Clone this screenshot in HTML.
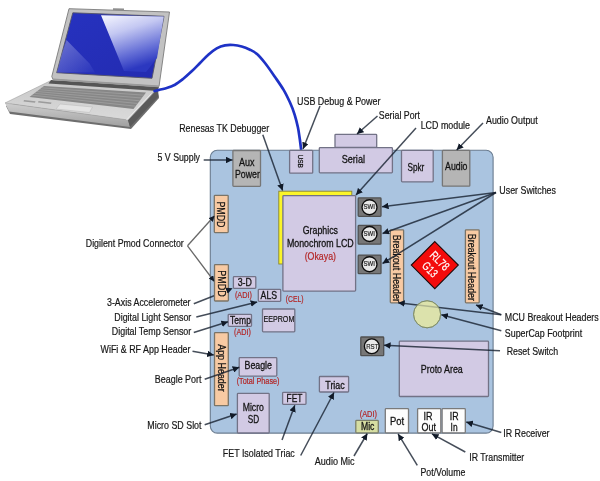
<!DOCTYPE html><html><head><meta charset="utf-8"><style>html,body{margin:0;padding:0;background:#fff;width:600px;height:481px;overflow:hidden}svg{display:block;filter:blur(0.35px)}text{font-family:"Liberation Sans",sans-serif}</style></head><body>
<svg width="600" height="481" viewBox="0 0 600 481">
<defs>
<marker id="ah" viewBox="0 0 10 10" refX="10" refY="5" markerWidth="4.4" markerHeight="4.4" orient="auto" markerUnits="strokeWidth"><path d="M0,0 L10,5 L0,10 z" fill="#111a28"/></marker>
<linearGradient id="scr" x1="0" y1="0" x2="1" y2="1"><stop offset="0" stop-color="#2632c0"/><stop offset="1" stop-color="#232bb0"/></linearGradient>
<linearGradient id="hl" x1="0" y1="0" x2="0.35" y2="1"><stop offset="0" stop-color="#f6f7ff"/><stop offset="0.35" stop-color="#c4c8f2"/><stop offset="0.75" stop-color="#646ed6"/><stop offset="1" stop-color="#2c38c0"/></linearGradient>
<linearGradient id="hl2" x1="0" y1="0" x2="1" y2="1"><stop offset="0" stop-color="#a8ace4"/><stop offset="1" stop-color="#2c38c0"/></linearGradient>
<linearGradient id="front" x1="0" y1="0" x2="0" y2="1"><stop offset="0" stop-color="#cfcfcf"/><stop offset="1" stop-color="#a0a0a0"/></linearGradient>
<linearGradient id="lid" x1="0" y1="0" x2="0" y2="1"><stop offset="0" stop-color="#b8b8b8"/><stop offset="1" stop-color="#9c9c9c"/></linearGradient>
<linearGradient id="base" x1="0" y1="0" x2="0" y2="1"><stop offset="0" stop-color="#c8c8c8"/><stop offset="1" stop-color="#dadada"/></linearGradient>
</defs>
<polygon points="6,106 50,82 158,90 159,98 131,129 10,114" fill="#6e6e6e"/>
<polygon points="5,103 128,120 130,127 9,111.5" fill="url(#front)"/>
<polygon points="128,120 157,89 158.5,96.5 130,127" fill="#5a5a5a"/>
<polygon points="5,103 50,81 157,89 128,120" fill="url(#base)" stroke="#a0a0a0" stroke-width="0.6"/>
<polygon points="44,86 146,92.5 133.5,109 29.5,97" fill="#878787"/>
<line x1="41.6" y1="87.8" x2="143.9" y2="95.2" stroke="#a4a4a4" stroke-width="0.7"/>
<line x1="39.2" y1="89.7" x2="141.8" y2="98.0" stroke="#a4a4a4" stroke-width="0.7"/>
<line x1="36.8" y1="91.5" x2="139.8" y2="100.8" stroke="#a4a4a4" stroke-width="0.7"/>
<line x1="34.3" y1="93.3" x2="137.7" y2="103.5" stroke="#a4a4a4" stroke-width="0.7"/>
<line x1="31.9" y1="95.2" x2="135.6" y2="106.2" stroke="#a4a4a4" stroke-width="0.7"/>
<polygon points="51,80 159,87 157.5,91 48.5,83.5" fill="#555555"/>
<line x1="151.5" y1="93.5" x2="126.5" y2="120" stroke="#ececec" stroke-width="1"/>
<polygon points="60,104 92.5,107 89.5,112.5 56,109" fill="#e4e4e4" stroke="#b8b8b8" stroke-width="0.5"/>
<polygon points="24,100 35.5,101.3 35,102.8 23.5,101.5" fill="#9c9c9c"/>
<polygon points="38.5,101 51.5,102.5 51,104 38,102.6" fill="#9c9c9c"/>
<polygon points="69,8.7 169.5,12 159,86.5 53,79.5 51.8,76.5" fill="#c2c2c2" stroke="#7a7a7a" stroke-width="0.9" stroke-linejoin="round"/>
<polygon points="53,78.6 159,85.6 158.6,87.2 52.6,80.2" fill="#9a9a9a"/>
<polygon points="113,8.2 124,8.6 124,10.6 113,10.2" fill="#8e8e8e"/>
<polygon points="72.8,12.8 164,16.3 152,78.3 56.7,72.7" fill="url(#scr)" stroke="#555566" stroke-width="0.9"/>
<polygon points="101,15.3 163.8,16.6 157,58 146,72 124,71" fill="url(#hl)"/>
<polygon points="66.5,40 89.5,63.5 95,72.5 57,72.5 61.5,55" fill="url(#hl2)" opacity="0.55"/>
<path d="M154.5,91 C156.5,90.5 163.3,89.0 166.7,88 C170.1,87.0 172.2,86.2 175,84.7 C177.8,83.2 180.5,81.0 183.3,78.8 C186.1,76.6 188.9,73.9 191.7,71.3 C194.5,68.7 197.2,65.8 200,63 C202.8,60.2 205.5,57.2 208.3,54.7 C211.1,52.2 213.9,49.9 216.7,48.3 C219.5,46.7 222.2,45.8 225,45.3 C227.8,44.8 230.5,44.8 233.3,45 C236.1,45.2 238.9,45.7 241.7,46.5 C244.5,47.3 247.4,48.5 250,49.7 C252.6,51.0 254.5,51.8 257,54 C259.5,56.2 262.0,59.2 265,63 C268.0,66.8 271.9,72.5 275,77 C278.1,81.5 281.1,85.7 283.6,89.9 C286.1,94.1 288.0,98.2 289.9,102.3 C291.8,106.4 293.4,110.6 294.7,114.8 C296.0,119.0 297.0,123.1 297.9,127.3 C298.8,131.5 299.3,136.0 299.9,139.8 C300.4,143.6 301.0,148.6 301.2,150.3" fill="none" stroke="#1e32c6" stroke-width="2.7" stroke-linecap="round"/>
<rect x="210.3" y="150.3" width="282.8" height="282.8" rx="7" fill="#aac4e0" stroke="#6a7c90" stroke-width="1.1"/>
<path d="M193.8,303.8 L228.0,290.2" fill="none" stroke="rgba(22,32,48,0.8)" stroke-width="1.5"/>
<rect x="289.6" y="150.3" width="23.1" height="22.9" rx="0.8" fill="#d2cae4" stroke="#727286" stroke-width="1.3"/>
<text transform="translate(300.7,154.5) rotate(90)" x="0" y="2.59" font-size="7.2" fill="#141414" stroke="#141414" stroke-width="0.25" textLength="13.5" lengthAdjust="spacingAndGlyphs">USB</text>
<rect x="335.0" y="134.3" width="41.7" height="13.2" rx="0.8" fill="#d2cae4" stroke="#727286" stroke-width="1.3"/>
<rect x="319.3" y="147.6" width="73.1" height="25.2" rx="0.8" fill="#d2cae4" stroke="#727286" stroke-width="1.3"/>
<text x="341.70" y="162.80" font-size="11" fill="#141414" stroke="#141414" stroke-width="0.3" textLength="23.30" lengthAdjust="spacingAndGlyphs">Serial</text>
<rect x="401.5" y="150.3" width="31.7" height="31.5" rx="0.8" fill="#d2cae4" stroke="#727286" stroke-width="1.3"/>
<text x="407.50" y="171.10" font-size="11" fill="#141414" stroke="#141414" stroke-width="0.3" textLength="16.80" lengthAdjust="spacingAndGlyphs">Spkr</text>
<rect x="442.4" y="150.3" width="27.4" height="35.9" rx="0.8" fill="#b5b5b5" stroke="#767676" stroke-width="1.3"/>
<text x="445.10" y="169.50" font-size="11" fill="#141414" stroke="#141414" stroke-width="0.3" textLength="22.40" lengthAdjust="spacingAndGlyphs">Audio</text>
<rect x="232.9" y="150.5" width="27.6" height="35.9" rx="0.8" fill="#b5b5b5" stroke="#767676" stroke-width="1.3"/>
<text x="239.00" y="165.50" font-size="11" fill="#141414" stroke="#141414" stroke-width="0.3" textLength="15.50" lengthAdjust="spacingAndGlyphs">Aux</text>
<text x="235.00" y="178.40" font-size="11" fill="#141414" stroke="#141414" stroke-width="0.3" textLength="24.80" lengthAdjust="spacingAndGlyphs">Power</text>
<rect x="214.3" y="195.3" width="13.9" height="37.3" rx="0.8" fill="#f8caa3" stroke="#7a7468" stroke-width="1.3"/>
<text transform="translate(221.3,201.4) rotate(90)" x="0" y="3.96" font-size="11" fill="#141414" stroke="#141414" stroke-width="0.25" textLength="26.0" lengthAdjust="spacingAndGlyphs">PMDD</text>
<rect x="214.5" y="264.6" width="13.9" height="36.4" rx="0.8" fill="#f8caa3" stroke="#7a7468" stroke-width="1.3"/>
<text transform="translate(221.5,270.3) rotate(90)" x="0" y="3.96" font-size="11" fill="#141414" stroke="#141414" stroke-width="0.25" textLength="26.3" lengthAdjust="spacingAndGlyphs">PMDD</text>
<rect x="214.5" y="332.6" width="13.8" height="73.1" rx="0.8" fill="#f8caa3" stroke="#7a7468" stroke-width="1.3"/>
<text transform="translate(222.2,344.2) rotate(90)" x="0" y="3.89" font-size="10.8" fill="#141414" stroke="#141414" stroke-width="0.25" textLength="47.5" lengthAdjust="spacingAndGlyphs">App Header</text>
<rect x="390.3" y="229.8" width="13.3" height="73.1" rx="0.8" fill="#f8caa3" stroke="#7a7468" stroke-width="1.3"/>
<text transform="translate(397.6,234.7) rotate(90)" x="0" y="4.14" font-size="11.5" fill="#141414" stroke="#141414" stroke-width="0.25" textLength="67.2" lengthAdjust="spacingAndGlyphs">Breakout Header</text>
<rect x="465.4" y="229.8" width="13.8" height="73.1" rx="0.8" fill="#f8caa3" stroke="#7a7468" stroke-width="1.3"/>
<text transform="translate(472.6,233.8) rotate(90)" x="0" y="4.14" font-size="11.5" fill="#141414" stroke="#141414" stroke-width="0.25" textLength="67.2" lengthAdjust="spacingAndGlyphs">Breakout Header</text>
<rect x="278.8" y="191.2" width="73" height="72.8" fill="#fbf52a" stroke="#8a8530" stroke-width="0.9"/>
<rect x="282.9" y="195.6" width="72.7" height="95.5" rx="0.8" fill="#d2cae4" stroke="#727286" stroke-width="1.3"/>
<text x="302.70" y="233.90" font-size="10.5" fill="#141414" stroke="#141414" stroke-width="0.3" textLength="35.30" lengthAdjust="spacingAndGlyphs">Graphics</text>
<text x="286.90" y="247.40" font-size="10.5" fill="#141414" stroke="#141414" stroke-width="0.3" textLength="66.80" lengthAdjust="spacingAndGlyphs">Monochrom LCD</text>
<text x="304.70" y="259.70" font-size="10.5" fill="#b42626" stroke="#b42626" stroke-width="0.2" textLength="31.30" lengthAdjust="spacingAndGlyphs">(Okaya)</text>
<rect x="358.2" y="197.9" width="22.8" height="18.4" rx="0.8" fill="#777777" stroke="#505050" stroke-width="1.3"/>
<circle cx="369.5" cy="207.2" r="7.5" fill="#e8e8e8" stroke="#0c0c0c" stroke-width="1.35"/>
<text x="363.60" y="209.30" font-size="6.9" fill="#222" stroke="#222" stroke-width="0.2" textLength="11.40" lengthAdjust="spacingAndGlyphs">SWI</text>
<rect x="358.2" y="225.4" width="22.8" height="18.8" rx="0.8" fill="#777777" stroke="#505050" stroke-width="1.3"/>
<circle cx="369.5" cy="234.0" r="7.5" fill="#e8e8e8" stroke="#0c0c0c" stroke-width="1.35"/>
<text x="363.60" y="236.10" font-size="6.9" fill="#222" stroke="#222" stroke-width="0.2" textLength="11.40" lengthAdjust="spacingAndGlyphs">SWI</text>
<rect x="358.2" y="255.1" width="22.8" height="18.6" rx="0.8" fill="#777777" stroke="#505050" stroke-width="1.3"/>
<circle cx="369.5" cy="264.2" r="7.5" fill="#e8e8e8" stroke="#0c0c0c" stroke-width="1.35"/>
<text x="363.60" y="266.30" font-size="6.9" fill="#222" stroke="#222" stroke-width="0.2" textLength="11.40" lengthAdjust="spacingAndGlyphs">SWI</text>
<polygon points="434.8,241.6 458.3,265.1 434.8,288.6 411.3,265.1" fill="#f30b0b" stroke="#1a0808" stroke-width="1.1"/>
<g transform="translate(434.8,265.1) rotate(45)" fill="#fff" stroke="#fff" stroke-width="0.2"><text x="-10.6" y="-2.4" font-size="12" textLength="22" lengthAdjust="spacingAndGlyphs">RL78</text><text x="-8.6" y="10.6" font-size="12" textLength="16.5" lengthAdjust="spacingAndGlyphs">G13</text></g>
<rect x="233.4" y="276.6" width="22.4" height="11.7" rx="0.8" fill="#d2cae4" stroke="#727286" stroke-width="1.3"/>
<text x="237.70" y="286.00" font-size="10" fill="#141414" stroke="#141414" stroke-width="0.3" textLength="14.20" lengthAdjust="spacingAndGlyphs">3-D</text>
<text x="234.90" y="297.90" font-size="9" fill="#b42626" stroke="#b42626" stroke-width="0.2" textLength="17.00" lengthAdjust="spacingAndGlyphs">(ADI)</text>
<rect x="258.3" y="289.3" width="22.4" height="12.0" rx="0.8" fill="#d2cae4" stroke="#727286" stroke-width="1.3"/>
<text x="260.60" y="299.10" font-size="10.5" fill="#141414" stroke="#141414" stroke-width="0.3" textLength="16.50" lengthAdjust="spacingAndGlyphs">ALS</text>
<text x="285.80" y="302.00" font-size="9" fill="#b42626" stroke="#b42626" stroke-width="0.2" textLength="17.70" lengthAdjust="spacingAndGlyphs">(CEL)</text>
<rect x="228.2" y="314.4" width="23.3" height="12.0" rx="0.8" fill="#d2cae4" stroke="#727286" stroke-width="1.3"/>
<text x="230.10" y="323.80" font-size="10.5" fill="#141414" stroke="#141414" stroke-width="0.3" textLength="20.80" lengthAdjust="spacingAndGlyphs">Temp</text>
<text x="234.00" y="334.70" font-size="9" fill="#b42626" stroke="#b42626" stroke-width="0.2" textLength="16.90" lengthAdjust="spacingAndGlyphs">(ADI)</text>
<rect x="262.5" y="309.0" width="32.3" height="22.8" rx="0.8" fill="#d2cae4" stroke="#727286" stroke-width="1.3"/>
<text x="263.50" y="322.40" font-size="8.5" fill="#141414" stroke="#141414" stroke-width="0.2" textLength="30.80" lengthAdjust="spacingAndGlyphs">EEPROM</text>
<rect x="239.2" y="357.6" width="37.6" height="18.5" rx="0.8" fill="#d2cae4" stroke="#727286" stroke-width="1.3"/>
<text x="244.50" y="369.40" font-size="10.5" fill="#141414" stroke="#141414" stroke-width="0.3" textLength="27.50" lengthAdjust="spacingAndGlyphs">Beagle</text>
<text x="236.70" y="384.40" font-size="8.5" fill="#b42626" stroke="#b42626" stroke-width="0.2" textLength="42.80" lengthAdjust="spacingAndGlyphs">(Total Phase)</text>
<rect x="237.4" y="393.3" width="31.8" height="39.7" rx="0.8" fill="#d2cae4" stroke="#727286" stroke-width="1.3"/>
<text x="242.70" y="411.00" font-size="11" fill="#141414" stroke="#141414" stroke-width="0.3" textLength="21.20" lengthAdjust="spacingAndGlyphs">Micro</text>
<text x="247.70" y="423.30" font-size="11" fill="#141414" stroke="#141414" stroke-width="0.3" textLength="11.40" lengthAdjust="spacingAndGlyphs">SD</text>
<rect x="282.6" y="392.4" width="23.4" height="12.0" rx="0.8" fill="#d2cae4" stroke="#727286" stroke-width="1.3"/>
<text x="286.50" y="402.10" font-size="10.5" fill="#141414" stroke="#141414" stroke-width="0.3" textLength="15.90" lengthAdjust="spacingAndGlyphs">FET</text>
<rect x="319.4" y="376.5" width="29.2" height="15.5" rx="0.8" fill="#d2cae4" stroke="#727286" stroke-width="1.3"/>
<text x="325.30" y="388.60" font-size="10.5" fill="#141414" stroke="#141414" stroke-width="0.3" textLength="19.40" lengthAdjust="spacingAndGlyphs">Triac</text>
<rect x="355.8" y="420.4" width="22.5" height="12.4" rx="0.8" fill="#d6dea2" stroke="#7c806a" stroke-width="1.3"/>
<text x="361.00" y="430.00" font-size="10.5" fill="#141414" stroke="#141414" stroke-width="0.3" textLength="13.40" lengthAdjust="spacingAndGlyphs">Mic</text>
<text x="359.70" y="417.30" font-size="9" fill="#b42626" stroke="#b42626" stroke-width="0.2" textLength="17.30" lengthAdjust="spacingAndGlyphs">(ADI)</text>
<rect x="385.3" y="408.7" width="23.2" height="24.1" rx="0.8" fill="#fdfdfd" stroke="#7a7a7a" stroke-width="1.3"/>
<text x="389.90" y="424.80" font-size="11" fill="#141414" stroke="#141414" stroke-width="0.3" textLength="14.20" lengthAdjust="spacingAndGlyphs">Pot</text>
<rect x="417.6" y="408.7" width="23.2" height="24.1" rx="0.8" fill="#fdfdfd" stroke="#7a7a7a" stroke-width="1.3"/>
<text x="423.50" y="419.60" font-size="11" fill="#141414" stroke="#141414" stroke-width="0.3" textLength="9.00" lengthAdjust="spacingAndGlyphs">IR</text>
<text x="421.40" y="430.70" font-size="11" fill="#141414" stroke="#141414" stroke-width="0.3" textLength="14.50" lengthAdjust="spacingAndGlyphs">Out</text>
<rect x="442.1" y="408.7" width="23.2" height="24.1" rx="0.8" fill="#fdfdfd" stroke="#7a7a7a" stroke-width="1.3"/>
<text x="449.80" y="419.60" font-size="11" fill="#141414" stroke="#141414" stroke-width="0.3" textLength="8.80" lengthAdjust="spacingAndGlyphs">IR</text>
<text x="450.60" y="430.70" font-size="11" fill="#141414" stroke="#141414" stroke-width="0.3" textLength="7.00" lengthAdjust="spacingAndGlyphs">In</text>
<rect x="360.8" y="337.0" width="22.9" height="18.7" rx="0.8" fill="#777777" stroke="#505050" stroke-width="1.3"/>
<circle cx="371.8" cy="346.3" r="7.4" fill="#e8e8e8" stroke="#0c0c0c" stroke-width="1.35"/>
<text x="366.20" y="349.10" font-size="7.8" fill="#222" stroke="#222" stroke-width="0.2" textLength="12.10" lengthAdjust="spacingAndGlyphs">RST</text>
<circle cx="427.1" cy="314.3" r="13.5" fill="#dce2ac" stroke="#7e8c6a" stroke-width="1"/>
<rect x="399.3" y="341.2" width="89.2" height="55.3" rx="0.8" fill="#d2cae4" stroke="#727286" stroke-width="1.3"/>
<text x="420.80" y="372.50" font-size="11" fill="#141414" stroke="#141414" stroke-width="0.3" textLength="42.00" lengthAdjust="spacingAndGlyphs">Proto Area</text>
<path d="M203.7,160.0 L232.5,160.0" fill="none" stroke="rgba(22,32,48,0.8)" stroke-width="1.5" marker-end="url(#ah)"/>
<path d="M262.8,134.8 L282.6,190.6" fill="none" stroke="rgba(22,32,48,0.8)" stroke-width="1.5" marker-end="url(#ah)"/>
<path d="M320.0,106.0 L303.0,149.0" fill="none" stroke="rgba(22,32,48,0.8)" stroke-width="1.5" marker-end="url(#ah)"/>
<path d="M377.5,116.0 L357.0,134.0" fill="none" stroke="rgba(22,32,48,0.8)" stroke-width="1.5" marker-end="url(#ah)"/>
<path d="M416.0,128.0 L356.0,195.0" fill="none" stroke="rgba(22,32,48,0.8)" stroke-width="1.5" marker-end="url(#ah)"/>
<path d="M483.0,123.0 L456.7,150.0" fill="none" stroke="rgba(22,32,48,0.8)" stroke-width="1.5" marker-end="url(#ah)"/>
<path d="M496.0,192.5 L382.0,206.7" fill="none" stroke="rgba(22,32,48,0.8)" stroke-width="1.5" marker-end="url(#ah)"/>
<path d="M496.0,192.5 L382.5,233.5" fill="none" stroke="rgba(22,32,48,0.8)" stroke-width="1.5" marker-end="url(#ah)"/>
<path d="M496.0,192.5 L382.5,263.5" fill="none" stroke="rgba(22,32,48,0.8)" stroke-width="1.5" marker-end="url(#ah)"/>
<path d="M187.5,245.8 L214.5,215.8" fill="none" stroke="#686868" stroke-width="1.3" marker-end="url(#ah)"/>
<path d="M187.5,245.8 L214.3,281.5" fill="none" stroke="#686868" stroke-width="1.3" marker-end="url(#ah)"/>
<path d="M196.3,317.0 L257.2,302.0" fill="none" stroke="rgba(22,32,48,0.8)" stroke-width="1.5" marker-end="url(#ah)"/>
<path d="M193.8,332.5 L228.0,321.8" fill="none" stroke="rgba(22,32,48,0.8)" stroke-width="1.5" marker-end="url(#ah)"/>
<path d="M192.5,351.3 L213.8,355.0" fill="none" stroke="rgba(22,32,48,0.8)" stroke-width="1.5" marker-end="url(#ah)"/>
<path d="M204.7,379.3 L239.3,367.3" fill="none" stroke="rgba(22,32,48,0.8)" stroke-width="1.5" marker-end="url(#ah)"/>
<path d="M204.7,424.7 L236.7,414.0" fill="none" stroke="rgba(22,32,48,0.8)" stroke-width="1.5" marker-end="url(#ah)"/>
<path d="M282.0,440.0 L294.8,405.3" fill="none" stroke="rgba(22,32,48,0.8)" stroke-width="1.5" marker-end="url(#ah)"/>
<path d="M300.7,455.5 L334.0,392.5" fill="none" stroke="rgba(22,32,48,0.8)" stroke-width="1.5" marker-end="url(#ah)"/>
<path d="M354.0,456.0 L367.3,433.5" fill="none" stroke="rgba(22,32,48,0.8)" stroke-width="1.5" marker-end="url(#ah)"/>
<path d="M417.3,465.3 L398.1,433.9" fill="none" stroke="rgba(22,32,48,0.8)" stroke-width="1.5" marker-end="url(#ah)"/>
<path d="M465.3,452.0 L432.0,433.9" fill="none" stroke="rgba(22,32,48,0.8)" stroke-width="1.5" marker-end="url(#ah)"/>
<path d="M501.3,432.5 L466.2,422.0" fill="none" stroke="rgba(22,32,48,0.8)" stroke-width="1.5" marker-end="url(#ah)"/>
<path d="M501.3,314.7 L398.1,302.7" fill="none" stroke="rgba(22,32,48,0.8)" stroke-width="1.5" marker-end="url(#ah)"/>
<path d="M501.3,314.7 L476.0,305.0" fill="none" stroke="rgba(22,32,48,0.8)" stroke-width="1.5" marker-end="url(#ah)"/>
<path d="M501.3,330.7 L441.3,314.7" fill="none" stroke="rgba(22,32,48,0.8)" stroke-width="1.5" marker-end="url(#ah)"/>
<path d="M500.0,350.7 L384.0,345.3" fill="none" stroke="rgba(22,32,48,0.8)" stroke-width="1.5" marker-end="url(#ah)"/>
<circle cx="427.1" cy="314.3" r="13.5" fill="#dce2ac" fill-opacity="0.72" stroke="#7e8c6a" stroke-width="1"/>
<path d="M226,291 L232.6,288.3" stroke="#2b3547" stroke-opacity="0" stroke-width="1.5" marker-end="url(#ah)"/>
<text x="179.20" y="132.20" font-size="10.5" fill="#161616" stroke="#161616" stroke-width="0.2" textLength="90.00" lengthAdjust="spacingAndGlyphs">Renesas TK Debugger</text>
<text x="297.00" y="105.00" font-size="10.5" fill="#161616" stroke="#161616" stroke-width="0.2" textLength="83.50" lengthAdjust="spacingAndGlyphs">USB Debug &amp; Power</text>
<text x="378.80" y="118.80" font-size="10.5" fill="#161616" stroke="#161616" stroke-width="0.2" textLength="41.20" lengthAdjust="spacingAndGlyphs">Serial Port</text>
<text x="420.70" y="129.30" font-size="10.5" fill="#161616" stroke="#161616" stroke-width="0.2" textLength="49.30" lengthAdjust="spacingAndGlyphs">LCD module</text>
<text x="486.00" y="124.30" font-size="10.5" fill="#161616" stroke="#161616" stroke-width="0.2" textLength="51.70" lengthAdjust="spacingAndGlyphs">Audio Output</text>
<text x="157.50" y="161.30" font-size="10.5" fill="#161616" stroke="#161616" stroke-width="0.2" textLength="42.50" lengthAdjust="spacingAndGlyphs">5 V Supply</text>
<text x="499.30" y="194.30" font-size="10.5" fill="#161616" stroke="#161616" stroke-width="0.2" textLength="56.70" lengthAdjust="spacingAndGlyphs">User Switches</text>
<text x="85.80" y="247.20" font-size="10.5" fill="#161616" stroke="#161616" stroke-width="0.2" textLength="98.00" lengthAdjust="spacingAndGlyphs">Digilent Pmod Connector</text>
<text x="107.00" y="305.50" font-size="10.5" fill="#161616" stroke="#161616" stroke-width="0.2" textLength="83.50" lengthAdjust="spacingAndGlyphs">3-Axis Accelerometer</text>
<text x="114.30" y="321.30" font-size="10.5" fill="#161616" stroke="#161616" stroke-width="0.2" textLength="77.00" lengthAdjust="spacingAndGlyphs">Digital Light Sensor</text>
<text x="111.80" y="335.00" font-size="10.5" fill="#161616" stroke="#161616" stroke-width="0.2" textLength="79.50" lengthAdjust="spacingAndGlyphs">Digital Temp Sensor</text>
<text x="100.50" y="352.50" font-size="10.5" fill="#161616" stroke="#161616" stroke-width="0.2" textLength="90.00" lengthAdjust="spacingAndGlyphs">WiFi &amp; RF App Header</text>
<text x="154.80" y="382.50" font-size="10.5" fill="#161616" stroke="#161616" stroke-width="0.2" textLength="46.70" lengthAdjust="spacingAndGlyphs">Beagle Port</text>
<text x="147.30" y="428.70" font-size="10.5" fill="#161616" stroke="#161616" stroke-width="0.2" textLength="54.20" lengthAdjust="spacingAndGlyphs">Micro SD Slot</text>
<text x="222.80" y="456.50" font-size="10.5" fill="#161616" stroke="#161616" stroke-width="0.2" textLength="72.00" lengthAdjust="spacingAndGlyphs">FET Isolated Triac</text>
<text x="314.80" y="464.80" font-size="10.5" fill="#161616" stroke="#161616" stroke-width="0.2" textLength="39.70" lengthAdjust="spacingAndGlyphs">Audio Mic</text>
<text x="420.50" y="475.50" font-size="10.5" fill="#161616" stroke="#161616" stroke-width="0.2" textLength="44.80" lengthAdjust="spacingAndGlyphs">Pot/Volume</text>
<text x="469.30" y="460.50" font-size="10.5" fill="#161616" stroke="#161616" stroke-width="0.2" textLength="55.00" lengthAdjust="spacingAndGlyphs">IR Transmitter</text>
<text x="503.30" y="436.80" font-size="10.5" fill="#161616" stroke="#161616" stroke-width="0.2" textLength="46.20" lengthAdjust="spacingAndGlyphs">IR Receiver</text>
<text x="504.80" y="320.80" font-size="10.5" fill="#161616" stroke="#161616" stroke-width="0.2" textLength="93.90" lengthAdjust="spacingAndGlyphs">MCU Breakout Headers</text>
<text x="504.80" y="337.30" font-size="10.5" fill="#161616" stroke="#161616" stroke-width="0.2" textLength="77.30" lengthAdjust="spacingAndGlyphs">SuperCap Footprint</text>
<text x="506.70" y="354.70" font-size="10.5" fill="#161616" stroke="#161616" stroke-width="0.2" textLength="51.40" lengthAdjust="spacingAndGlyphs">Reset Switch</text>
</svg></body></html>
